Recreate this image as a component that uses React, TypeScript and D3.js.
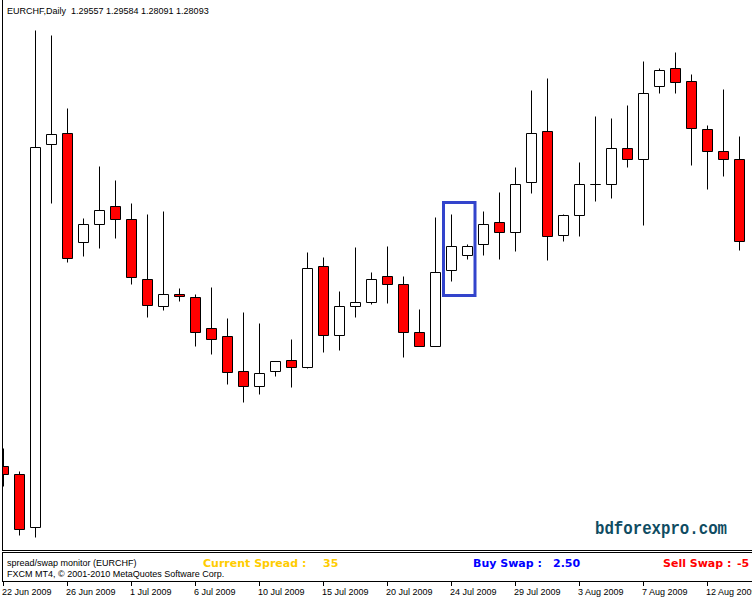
import React from "react";
import * as d3 from "d3";

// ---- data ----
const dates = [
  "2009-06-22","2009-06-23","2009-06-24","2009-06-25","2009-06-26","2009-06-28","2009-06-29","2009-06-30",
  "2009-07-01","2009-07-02","2009-07-03","2009-07-05","2009-07-06","2009-07-07","2009-07-08","2009-07-09",
  "2009-07-10","2009-07-12","2009-07-13","2009-07-14","2009-07-15","2009-07-16","2009-07-17","2009-07-19",
  "2009-07-20","2009-07-21","2009-07-22","2009-07-23","2009-07-24","2009-07-26","2009-07-27","2009-07-28",
  "2009-07-29","2009-07-30","2009-07-31","2009-08-02","2009-08-03","2009-08-04","2009-08-05","2009-08-06",
  "2009-08-07","2009-08-09","2009-08-10","2009-08-11","2009-08-12","2009-08-13","2009-08-14",
];
const opens = [
  1.4934,1.4926,1.4873,1.5256,1.5267,1.5158,1.5176,1.5194,1.5181,1.5121,1.5094,1.5106,1.5103,1.5072,1.5064,1.5029,
  1.5014,1.5029,1.5040,1.5033,1.5134,1.5065,1.5094,1.5098,1.5124,1.5116,1.5068,1.5054,1.5130,1.5145,1.5156,1.5178,
  1.5168,1.5218,1.5269,1.5165,1.5185,1.5216,1.5216,1.5252,1.5241,1.5314,1.5332,1.5319,1.5271,1.5249,1.5241,
];
const highs = [
  1.4952,1.4929,1.5370,1.5365,1.5292,1.5182,1.5234,1.5220,1.5197,1.5186,1.5189,1.5112,1.5106,1.5113,1.5082,1.5088,
  1.5077,1.5039,1.5061,1.5148,1.5143,1.5109,1.5153,1.5128,1.5154,1.5124,1.5091,1.5183,1.5186,1.5156,1.5189,1.5208,
  1.5233,1.5310,1.5322,1.5186,1.5238,1.5284,1.5282,1.5295,1.5339,1.5332,1.5348,1.5326,1.5275,1.5311,1.5264,
];
const lows = [
  1.4914,1.4865,1.4863,1.5197,1.5138,1.5144,1.5152,1.5162,1.5116,1.5083,1.5090,1.5099,1.5054,1.5046,1.5016,1.4998,
  1.5006,1.5024,1.5013,1.5032,1.5048,1.5050,1.5083,1.5096,1.5097,1.5043,1.5054,1.5054,1.5119,1.5141,1.5145,1.5141,
  1.5149,1.5207,1.5140,1.5159,1.5164,1.5199,1.5202,1.5233,1.5175,1.5307,1.5307,1.5235,1.5211,1.5224,1.5150,
];
const closes = [
  1.4926,1.4871,1.5253,1.5266,1.5142,1.5176,1.5190,1.5181,1.5123,1.5095,1.5106,1.5104,1.5068,1.5061,1.5028,1.5014,
  1.5027,1.5039,1.5033,1.5132,1.5065,1.5094,1.5098,1.5121,1.5116,1.5068,1.5054,1.5128,1.5154,1.5154,1.5176,1.5168,
  1.5216,1.5267,1.5164,1.5185,1.5216,1.5216,1.5252,1.5241,1.5307,1.5330,1.5318,1.5272,1.5249,1.5241,1.5159,
];
const tickDates = [
  "2009-06-22","2009-06-26","2009-07-01","2009-07-06","2009-07-10","2009-07-15",
  "2009-07-20","2009-07-24","2009-07-29","2009-08-03","2009-08-07","2009-08-12",
];
const headerText = "EURCHF,Daily  1.29557 1.29584 1.28091 1.28093";
const highlightFrom = "2009-07-24";
const highlightTo = "2009-07-26";
const highlightTop = 1.5198;
const highlightBottom = 1.5105;

const W = 752;
const H = 600;
const mainBottom = 550;

export default function App() {
  const x = d3.scaleBand<string>().domain(dates).range([-4.5, 747.5]).paddingInner(0).paddingOuter(0);
  const y = d3.scaleLinear().domain([1.485, 1.54]).range([mainBottom + 0.5, 0.5]);
  const cx = (d: string) => (x(d) as number) + x.bandwidth() / 2;
  const bodyHalf = 5;
  const fmt = d3.timeFormat("%-d %b %Y");
  const parse = d3.timeParse("%Y-%m-%d");

  const candles = dates.map((d, i) => ({
    d, o: opens[i], h: highs[i], l: lows[i], c: closes[i],
  }));

  const hx0 = cx(highlightFrom) - 8;
  const hx1 = cx(highlightTo) + 7.5;

  return (
    <svg
      width={W}
      height={H}
      style={{ position: "fixed", left: 0, top: 0, background: "#fff", display: "block" }}
      xmlns="http://www.w3.org/2000/svg"
    >
      <defs>
        <clipPath id="mainClip">
          <rect x={3} y={0} width={W - 3} height={mainBottom} />
        </clipPath>
      </defs>
      <rect x={0} y={0} width={W} height={H} fill="#fff" />

      <g clipPath="url(#mainClip)">
        {candles.map((k) => {
          const c = cx(k.d);
          const yt = y(Math.max(k.o, k.c));
          const yb = y(Math.min(k.o, k.c));
          const bull = k.c >= k.o;
          return (
            <g key={k.d}>
              <line x1={c} x2={c} y1={y(k.h)} y2={y(k.l)} stroke="#000" strokeWidth={1} />
              <path
                d={`M${c - bodyHalf},${yt}H${c + bodyHalf}V${yb}H${c - bodyHalf}Z`}
                fill={bull ? "#fff" : "#ff0000"}
                stroke="#000"
                strokeWidth={1}
              />
            </g>
          );
        })}
        <rect
          x={hx0}
          y={y(highlightTop)}
          width={hx1 - hx0}
          height={y(highlightBottom) - y(highlightTop)}
          fill="none"
          stroke="#3344cc"
          strokeWidth={3}
        />
      </g>

      {/* frame */}
      <line x1={2.5} x2={2.5} y1={0} y2={mainBottom} stroke="#000" />
      <line x1={2} x2={W} y1={550.5} y2={550.5} stroke="#000" />
      <line x1={2} x2={W} y1={552.5} y2={552.5} stroke="#000" />
      <line x1={2.5} x2={2.5} y1={552} y2={582} stroke="#000" />
      <line x1={2} x2={W} y1={581.5} y2={581.5} stroke="#000" />

      {/* header */}
      <text x={7} y={14} fontFamily="Liberation Sans, Arial, sans-serif" fontSize={9} fill="#000" xmlSpace="preserve">
        {headerText}
      </text>

      {/* watermark */}
      <text
        x={595}
        y={534}
        fontFamily="Liberation Mono, Courier New, monospace"
        fontWeight="bold"
        fontSize={18}
        fill="#0f4c62"
        textLength={132}
        lengthAdjust="spacingAndGlyphs"
      >
        bdforexpro.com
      </text>

      {/* indicator sub-window */}
      <text x={7} y={566} fontFamily="Liberation Sans, Arial, sans-serif" fontSize={9} fill="#000">
        spread/swap monitor (EURCHF)
      </text>
      <text x={7} y={577} fontFamily="Liberation Sans, Arial, sans-serif" fontSize={9} fill="#000">
        FXCM MT4, © 2001-2010 MetaQuotes Software Corp.
      </text>
      <g fontFamily="DejaVu Sans, Verdana, sans-serif" fontWeight="bold" fontSize={11}>
        <text x={203} y={567} fill="#ffcc00">Current Spread :</text>
        <text x={323} y={567} fill="#ffcc00">35</text>
        <text x={473} y={567} fill="#0000ff">Buy Swap :</text>
        <text x={553} y={567} fill="#0000ff">2.50</text>
        <text x={663} y={567} fill="#ff0000">Sell Swap :</text>
        <text x={737} y={567} fill="#ff0000">-5</text>
      </g>

      {/* time axis */}
      {tickDates.map((d) => {
        const t = cx(d);
        return (
          <g key={d}>
            <line x1={t} x2={t} y1={582} y2={586} stroke="#000" />
            <text x={t - 1.5} y={595} fontFamily="Liberation Sans, Arial, sans-serif" fontSize={9} fill="#000">
              {fmt(parse(d) as Date)}
            </text>
          </g>
        );
      })}
    </svg>
  );
}
